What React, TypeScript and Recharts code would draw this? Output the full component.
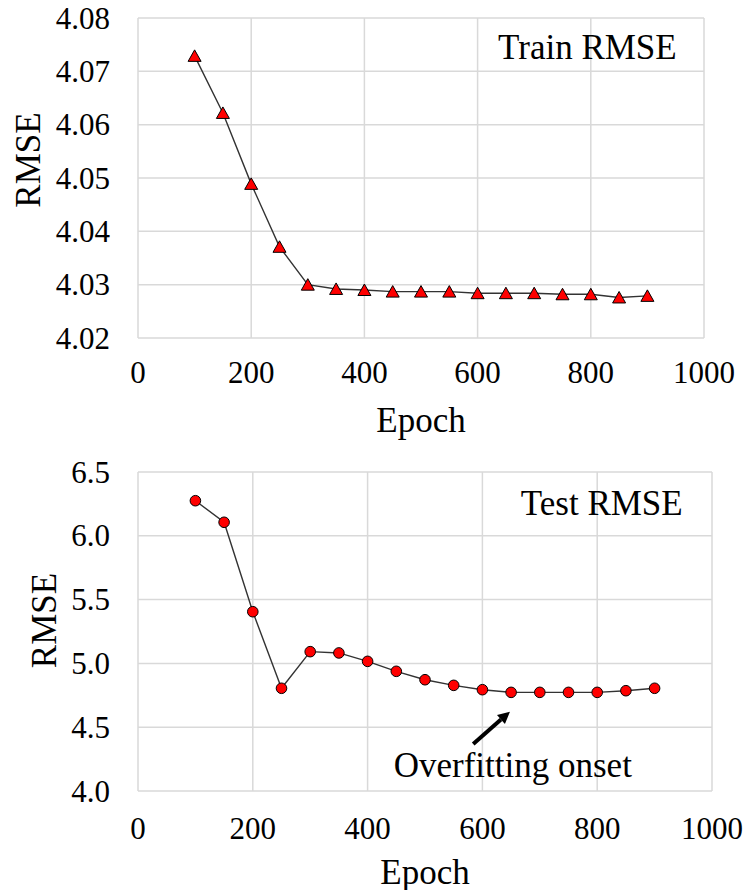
import React from 'react';
import { LineChart, Line, XAxis, YAxis, CartesianGrid, ReferenceDot, ReferenceLine, Label } from 'recharts';

const epochs = [100, 150, 200, 250, 300, 350, 400, 450, 500, 550, 600, 650, 700, 750, 800, 850, 900];
const trainRmse = [4.0729, 4.0622, 4.0489, 4.0371, 4.03, 4.0292, 4.029, 4.0287, 4.0287, 4.0287, 4.0284, 4.0284, 4.0284, 4.0282, 4.0282, 4.0276, 4.0279];
const testRmse = [6.275, 6.106, 5.405, 4.805, 5.092, 5.082, 5.016, 4.938, 4.872, 4.828, 4.794, 4.773, 4.773, 4.773, 4.773, 4.786, 4.805];
const epochTicks = [0, 200, 400, 600, 800, 1000];
const trainTicks = [4.02, 4.03, 4.04, 4.05, 4.06, 4.07, 4.08];
const testTicks = [4.0, 4.5, 5.0, 5.5, 6.0, 6.5];

const trainData = epochs.map((e, i) => ({ epoch: e, rmse: trainRmse[i] }));
const testData = epochs.map((e, i) => ({ epoch: e, rmse: testRmse[i] }));

const FONT = '"Liberation Serif", "Times New Roman", serif';
const GRID = '#d9d9d9';
const LINE = '#333333';

const XTick = (props: any) => {
  const { x, y, payload } = props;
  return (
    <text x={x} y={y} dy={11} textAnchor="middle" dominantBaseline="central" fontSize={31} fontFamily={FONT} fill="#000" style={{ fontFamily: FONT }}>
      {String(payload.value)}
    </text>
  );
};

const makeYTick = (digits: number) => (props: any) => {
  const { x, y, payload } = props;
  return (
    <text x={x} y={y} textAnchor="end" dominantBaseline="central" fontSize={31} fontFamily={FONT} fill="#000" style={{ fontFamily: FONT }}>
      {Number(payload.value).toFixed(digits)}
    </text>
  );
};

const Triangle = (props: any) => {
  const { cx, cy } = props;
  if (cx == null || cy == null) return null;
  return (
    <polygon
      points={`${cx},${cy - 6} ${cx - 6.5},${cy + 5.5} ${cx + 6.5},${cy + 5.5}`}
      fill="#ff0000"
      stroke="#000"
      strokeWidth={1}
    />
  );
};

const Circle = (props: any) => {
  const { cx, cy } = props;
  if (cx == null || cy == null) return null;
  return <circle cx={cx} cy={cy} r={5.3} fill="#ff0000" stroke="#000" strokeWidth={1} />;
};

const Arrow = (props: any) => {
  const { x1, y1, x2, y2 } = props;
  if ([x1, y1, x2, y2].some((v) => v == null || isNaN(v))) return null;
  const dx = x2 - x1;
  const dy = y2 - y1;
  const len = Math.sqrt(dx * dx + dy * dy);
  const ux = dx / len;
  const uy = dy / len;
  const hl = 12;
  const hw = 6;
  const bx = x2 - ux * hl;
  const by = y2 - uy * hl;
  const px = -uy;
  const py = ux;
  return (
    <g>
      <line x1={x1} y1={y1} x2={bx} y2={by} stroke="#000" strokeWidth={4} />
      <polygon
        points={`${x2},${y2} ${bx + px * hw},${by + py * hw} ${bx - px * hw},${by - py * hw}`}
        fill="#000"
      />
    </g>
  );
};

const yLabel = (dxCenter: number, dyShift: number) => (p: any) => {
  const vb = p.viewBox || {};
  const cx = dxCenter;
  const cy = vb.y + vb.height / 2 + dyShift;
  return (
    <text
      x={cx}
      y={cy}
      transform={`rotate(-90 ${cx} ${cy})`}
      textAnchor="middle"
      dominantBaseline="central"
      fontSize={35}
      fontFamily={FONT}
      fill="#000"
    >
      RMSE
    </text>
  );
};

const xLabel = (dyCenter: number) => (p: any) => {
  const vb = p.viewBox || {};
  return (
    <text
      x={vb.x + vb.width / 2}
      y={vb.y + dyCenter}
      textAnchor="middle"
      dominantBaseline="central"
      fontSize={35}
      fontFamily={FONT}
      fill="#000"
    >
      Epoch
    </text>
  );
};

export default function App() {
  return (
    <div style={{ position: 'absolute', left: 0, top: 0, width: 745, height: 890, background: '#fff', fontFamily: FONT }}>
      <div style={{ position: 'absolute', left: 0, top: 0 }}>
        <LineChart width={745} height={445} data={trainData} margin={{ top: 18, right: 41, left: 0, bottom: 0 }} style={{ fontFamily: FONT }}>
          <CartesianGrid stroke={GRID} strokeWidth={1.5} />
          <XAxis
            dataKey="epoch"
            type="number"
            domain={[0, 1000]}
            ticks={epochTicks}
            height={107}
            axisLine={false}
            tickLine={false}
            tickSize={0}
            tickMargin={23}
            tick={<XTick />}
          >
            <Label content={xLabel(82)} />
          </XAxis>
          <YAxis
            type="number"
            domain={[4.02, 4.08]}
            ticks={trainTicks}
            width={138}
            axisLine={false}
            tickLine={false}
            tickSize={0}
            tickMargin={28}
            tick={makeYTick(2)}
          >
            <Label content={yLabel(28, -18)} />
          </YAxis>
          <Line
            type="linear"
            dataKey="rmse"
            stroke={LINE}
            strokeWidth={1.4}
            dot={<Triangle />}
            isAnimationActive={false}
          />
          <ReferenceDot
            x={794}
            y={4.0746}
            r={0}
            fill="none"
            stroke="none"
            label={{ value: 'Train RMSE', position: 'center', fontSize: 35, fill: '#000', fontFamily: FONT }}
          />
        </LineChart>
      </div>
      <div style={{ position: 'absolute', left: 0, top: 445 }}>
        <LineChart width={745} height={445} data={testData} margin={{ top: 27, right: 33, left: 0, bottom: 0 }} style={{ fontFamily: FONT }}>
          <CartesianGrid stroke={GRID} strokeWidth={1.5} />
          <XAxis
            dataKey="epoch"
            type="number"
            domain={[0, 1000]}
            ticks={epochTicks}
            height={99}
            axisLine={false}
            tickLine={false}
            tickSize={0}
            tickMargin={26}
            tick={<XTick />}
          >
            <Label content={xLabel(81)} />
          </XAxis>
          <YAxis
            type="number"
            domain={[4.0, 6.5]}
            ticks={testTicks}
            width={138}
            axisLine={false}
            tickLine={false}
            tickSize={0}
            tickMargin={28}
            tick={makeYTick(1)}
          >
            <Label content={yLabel(44, -11)} />
          </YAxis>
          <Line
            type="linear"
            dataKey="rmse"
            stroke={LINE}
            strokeWidth={1.4}
            dot={<Circle />}
            isAnimationActive={false}
          />
          <ReferenceLine
            segment={[
              { x: 584, y: 4.368 },
              { x: 648, y: 4.622 },
            ]}
            shape={<Arrow />}
          />
          <ReferenceDot
            x={808}
            y={6.257}
            r={0}
            fill="none"
            stroke="none"
            label={{ value: 'Test RMSE', position: 'center', fontSize: 35, fill: '#000', fontFamily: FONT }}
          />
          <ReferenceDot
            x={653}
            y={4.204}
            r={0}
            fill="none"
            stroke="none"
            label={{ value: 'Overfitting onset', position: 'center', fontSize: 35, fill: '#000', fontFamily: FONT }}
          />
        </LineChart>
      </div>
    </div>
  );
}
